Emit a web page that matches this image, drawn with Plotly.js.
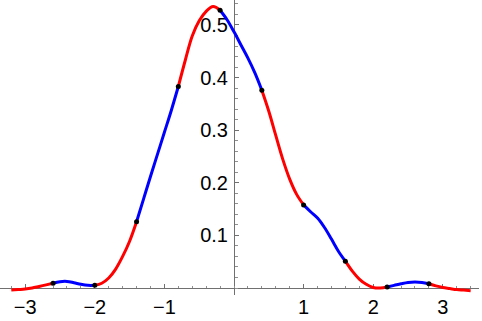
<!DOCTYPE html>
<html><head><meta charset="utf-8">
<script src="https://cdn.plot.ly/plotly-3.0.1.min.js"></script>
<style>html,body{margin:0;padding:0;background:#fff}#chart{width:482px;height:321px}</style>
</head><body><div id="chart"></div>
<script>
// Sample positions of the density curve (step 0.1 from -3.2 to 3.4)
var xValues = [-3.2,-3.1,-3.0,-2.9,-2.8,-2.7,-2.6,-2.5,-2.4,-2.3,-2.2,-2.1,-2.0,-1.9,-1.8,-1.7,-1.6,-1.5,-1.4,-1.3,-1.2,-1.1,-1.0,-0.9,-0.8,-0.7,-0.6,-0.5,-0.4,-0.3,-0.2,-0.1,0.0,0.1,0.2,0.3,0.4,0.5,0.6,0.7,0.8,0.9,1.0,1.1,1.2,1.3,1.4,1.5,1.6,1.7,1.8,1.9,2.0,2.1,2.2,2.3,2.4,2.5,2.6,2.7,2.8,2.9,3.0,3.1,3.2,3.3,3.4];
var yValues = [-0.004,-0.003,-0.002,0.000,0.003,0.006,0.009,0.012,0.0125,0.010,0.007,0.005,0.005,0.009,0.019,0.036,0.060,0.089,0.126,0.169,0.212,0.254,0.296,0.338,0.383,0.433,0.479,0.508,0.526,0.535,0.528,0.510,0.487,0.462,0.437,0.409,0.376,0.336,0.290,0.245,0.207,0.178,0.158,0.145,0.133,0.115,0.093,0.070,0.051,0.032,0.017,0.007,0.001,0.000,0.002,0.005,0.008,0.0105,0.0114,0.0105,0.008,0.004,0.001,-0.001,-0.003,-0.004,-0.005];
// Segment boundaries (colour changes, marked with black dots)
var breakPoints = [-3.2,-2.6,-2.0,-1.4,-0.8,-0.2,0.4,1.0,1.6,2.2,2.8,3.4];
var segmentColors = ['#ff0000','#0000ff'];
var xTickVals = [-3,-2,-1,1,2,3];
var yTickVals = [0.1,0.2,0.3,0.4,0.5];

var xRange = [-3.362, 3.52];
var yRange = [-0.0133, 0.5475];

var traces = [];
function idxOf(v){ var best=0; for (var i=0;i<xValues.length;i++){ if (Math.abs(xValues[i]-v) < Math.abs(xValues[best]-v)) best=i; } return best; }
for (var s=0; s<breakPoints.length-1; s++) {
  var a = idxOf(breakPoints[s]), b = idxOf(breakPoints[s+1]);
  traces.push({
    x: xValues.slice(a, b+1), y: yValues.slice(a, b+1),
    type: 'scatter', mode: 'lines',
    line: {color: segmentColors[s % 2], width: 3, shape: 'spline', smoothing: 1},
    hoverinfo: 'skip', showlegend: false
  });
}
var dx = [], dy = [];
for (var k=1; k<breakPoints.length-1; k++) { var i = idxOf(breakPoints[k]); dx.push(xValues[i]); dy.push(yValues[i]); }
traces.push({x: dx, y: dy, type: 'scatter', mode: 'markers', marker: {color: '#000', size: 5}, showlegend: false, hoverinfo: 'skip'});

var axisFont = {family: 'Liberation Sans, Arial, sans-serif', size: 20, color: '#000'};
var layout = {
  width: 482, height: 321,
  margin: {l: 0, r: 3, t: 0, b: 26, pad: 0},
  paper_bgcolor: '#fff', plot_bgcolor: '#fff',
  showlegend: false,
  xaxis: {
    range: xRange, anchor: 'free', position: (0 - yRange[0]) / (yRange[1] - yRange[0]),
    showgrid: false, zeroline: false, showline: true, linecolor: '#707070', linewidth: 1,
    tickmode: 'array', tickvals: xTickVals, ticks: 'inside', ticklen: 4, tickcolor: '#707070', tickwidth: 1,
    minor: {tickmode: 'linear', tick0: 0, dtick: 0.2, ticks: 'inside', ticklen: 2.5, tickcolor: '#909090', showgrid: false},
    tickfont: axisFont, ticklabelstandoff: 1, layer: 'below traces', fixedrange: true
  },
  yaxis: {
    range: yRange, anchor: 'free', position: (0 - xRange[0]) / (xRange[1] - xRange[0]),
    showgrid: false, zeroline: false, showline: true, linecolor: '#707070', linewidth: 1,
    tickmode: 'array', tickvals: yTickVals, ticktext: ['0.1','0.2','0.3','0.4','0.5'],
    ticks: 'inside', ticklen: 4, tickcolor: '#707070', tickwidth: 1,
    minor: {tickmode: 'linear', tick0: 0, dtick: 0.02, ticks: 'inside', ticklen: 2.5, tickcolor: '#909090', showgrid: false},
    tickfont: axisFont, ticklabelstandoff: 2, layer: 'below traces', fixedrange: true
  }
};
Plotly.newPlot('chart', traces, layout, {displayModeBar: false, staticPlot: true});
</script></body></html>
